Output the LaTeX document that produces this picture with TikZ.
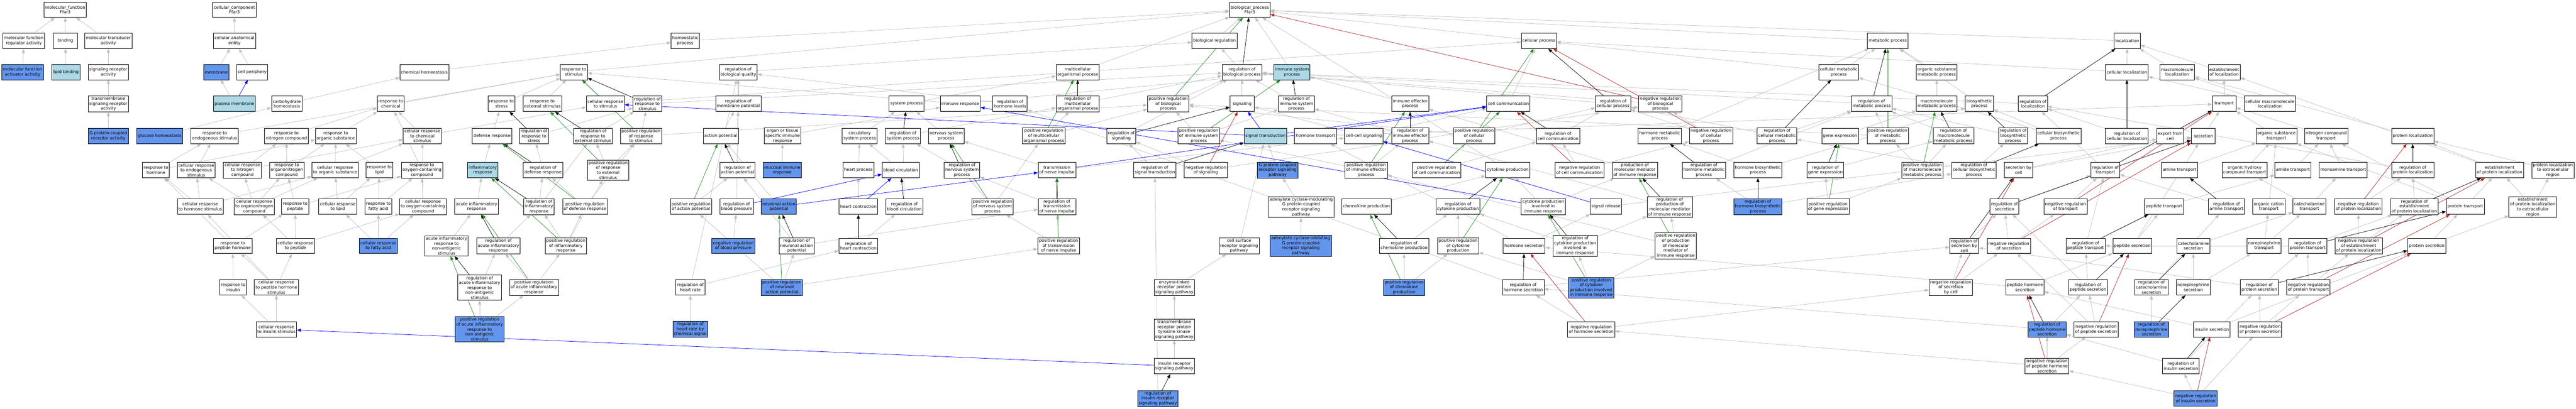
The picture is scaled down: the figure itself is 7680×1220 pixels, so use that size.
\documentclass[tikz,border=0pt]{standalone}
\usepackage{fontspec}
\newfontfamily\gofont{DejaVu Sans}
\usetikzlibrary{arrows.meta}
\pgfdeclarelayer{bg}
\pgfsetlayers{bg,main}
\definecolor{fillhit}{RGB}{100,149,237}
\definecolor{fillseed}{RGB}{173,216,230}
\definecolor{isagray}{RGB}{192,192,192}
\definecolor{posgreen}{RGB}{34,139,34}
\definecolor{negred}{RGB}{178,34,34}
\begin{document}
\begin{tikzpicture}[x=1pt,y=1pt,yscale=-1,
  gobox/.style={draw=black,line width=1.2pt,fill=white,align=center,inner xsep=3.5pt,inner ysep=3pt,minimum width=71pt,minimum height=46pt,font=\gofont\fontsize{12.5}{14.8}\selectfont},
  golight/.style={gobox,fill=fillseed},
  gohit/.style={gobox,fill=fillhit},
  isa/.style={draw=isagray,line width=1.1pt,-{Triangle[length=12pt,width=9pt]}},
  reg/.style={isa,draw=black},
  posreg/.style={isa,draw=posgreen},
  negreg/.style={isa,draw=negred},
  partof/.style={isa,draw=blue}]
\useasboundingbox (0,0) rectangle (7680,1220);

% molecular function
\node[gobox] (mf) at (194.5,29) {molecular\_function\\Ffar3};
\node[gobox] (mfreg) at (71,122) {molecular function\\regulator activity};
\node[gobox] (binding) at (195,122) {binding};
\node[gobox] (mftrans) at (323,122) {molecular transducer\\activity};
\node[gohit] (mfact) at (67.5,215) {molecular function\\activator activity};
\node[golight] (lipid) at (196,215) {lipid binding};
\node[gobox] (sigrec) at (323,215) {signaling receptor\\activity};
\node[gobox] (tmsigrec) at (323,310) {transmembrane\\signaling receptor\\activity};
\node[gohit] (gpcr) at (323,406) {G protein-coupled\\receptor activity};

% cellular component
\node[gobox] (cc) at (699,29) {cellular\_component\\Ffar3};
\node[gobox] (cae) at (699,122) {cellular anatomical\\entity};
\node[gohit] (membrane) at (645,215) {membrane};
\node[gobox] (cellper) at (752,215) {cell periphery};
\node[golight] (pm) at (699,310) {plasma membrane};

% responses to chemicals
\node[gohit] (gluchomeo) at (476,406) {glucose homeostasis};
\node[gobox] (rendo) at (640,406) {response to\\endogenous stimulus};
\node[gobox] (rhorm) at (465,508) {response to\\hormone};
\node[gobox] (creendo) at (585,508) {cellular response\\to endogenous\\stimulus};
\node[gobox] (crhorm) at (597,617) {cellular response\\to hormone stimulus};
\node[gobox] (rpephorm) at (694,734) {response to\\peptide hormone};
\node[gobox] (carbhomeo) at (855,310) {carbohydrate\\homeostasis};
\node[gobox] (chemhomeo) at (1265,215) {chemical homeostasis};
\node[gobox] (rchem) at (1165,310) {response to\\chemical};
\node[gobox] (rnitro) at (854,406) {response to\\nitrogen compound};
\node[gobox] (rorgsub) at (1001,406) {response to\\organic substance};
\node[gobox] (crchem) at (1259,406) {cellular response\\to chemical\\stimulus};
\node[gobox] (crnitro) at (723,508) {cellular response\\to nitrogen\\compound};
\node[gobox] (rorganonitro) at (855,508) {response to\\organonitrogen\\compound};
\node[gobox] (crorgsub) at (999,508) {cellular response\\to organic substance};
\node[gobox] (rlipid) at (1131,508) {response to\\lipid};
\node[gobox] (roxy) at (1258,508) {response to\\oxygen-containing\\compound};
\node[gobox] (crorganonitro) at (758,617) {cellular response\\to organonitrogen\\compound};
\node[gobox] (rpep) at (880,617) {response to\\peptide};
\node[gobox] (crlipid) at (1007,617) {cellular response\\to lipid};
\node[gobox] (rfatty) at (1128,617) {response to\\fatty acid};
\node[gobox] (croxy) at (1261,617) {cellular response\\to oxygen-containing\\compound};
\node[gobox] (crpep) at (881,734) {cellular response\\to peptide};
\node[gohit] (crfatty) at (1128,734) {cellular response\\to fatty acid};
\node[gobox] (rins) at (695,858) {response to\\insulin};
\node[gobox] (crpephorm) at (824,858) {cellular response\\to peptide hormone\\stimulus};
\node[gobox] (crins) at (824,983) {cellular response\\to insulin stimulus};

% stimulus and inflammation
\node[gobox] (rstim) at (1711,215) {response to\\stimulus};
\node[gobox] (rstress) at (1495,310) {response to\\stress};
\node[gobox] (rext) at (1617,310) {response to\\external stimulus};
\node[gobox] (crstim) at (1805,310) {cellular response\\to stimulus};
\node[gobox] (regrstim) at (1930,310) {regulation of\\response to\\stimulus};
\node[gobox] (defense) at (1467,406) {defense response};
\node[gobox] (regrstress) at (1592,406) {regulation of\\response to\\stress};
\node[gobox] (regrext) at (1768,406) {regulation of\\response to\\external stimulus};
\node[gobox] (posregrstim) at (1911,406) {positive regulation\\of response\\to stimulus};
\node[golight] (inflam) at (1439,508) {inflammatory\\response};
\node[gobox] (regdefense) at (1619,508) {regulation of\\defense response};
\node[gobox] (posregrext) at (1813,508) {positive regulation\\of response\\to external\\stimulus};
\node[gobox] (acuteinf) at (1421,617) {acute inflammatory\\response};
\node[gobox] (reginflam) at (1607,617) {regulation of\\inflammatory\\response};
\node[gobox] (posregdefense) at (1744,617) {positive regulation\\of defense response};
\node[gobox] (acuteinfnonant) at (1331,734) {acute inflammatory\\response to\\non-antigenic\\stimulus};
\node[gobox] (regacuteinf) at (1486,734) {regulation of\\acute inflammatory\\response};
\node[gobox] (posreginflam) at (1687,734) {positive regulation\\of inflammatory\\response};
\node[gobox] (regacuteinfnonant) at (1430,859) {regulation of\\acute inflammatory\\response to\\non-antigenic\\stimulus};
\node[gobox] (posregacuteinf) at (1592,858) {positive regulation\\of acute inflammatory\\response};
\node[gohit] (posregacuteinfnonant) at (1430,983) {positive regulation\\of acute inflammatory\\response to\\non-antigenic\\stimulus};

% system processes
\node[gobox] (homeo) at (2043,122) {homeostatic\\process};
\node[gobox] (regbioqual) at (2201,215) {regulation of\\biological quality};
\node[gobox] (regmemb) at (2201,310) {regulation of\\membrane potential};
\node[gobox] (actpot) at (2149,406) {action potential};
\node[gobox] (orgtissue) at (2333,406) {organ or tissue\\specific immune\\response};
\node[gobox] (circsys) at (2563,406) {circulatory\\system process};
\node[gobox] (regactpot) at (2199,508) {regulation of\\action potential};
\node[gohit] (mucosal) at (2332,508) {mucosal immune\\response};
\node[gobox] (heartproc) at (2559,508) {heart process};
\node[gobox] (posregactpot) at (2060,617) {positive regulation\\of action potential};
\node[gobox] (regbloodpres) at (2196,617) {regulation of\\blood pressure};
\node[gohit] (neuronalap) at (2322,617) {neuronal action\\potential};
\node[gobox] (heartcontr) at (2559,617) {heart contraction};
\node[gohit] (negregbp) at (2186,734) {negative regulation\\of blood pressure};
\node[gobox] (regneuronalap) at (2375,734) {regulation of\\neuronal action\\potential};
\node[gobox] (regheartcontr) at (2559,734) {regulation of\\heart contraction};
\node[gobox] (regheartrate) at (2058,858) {regulation of\\heart rate};
\node[gohit] (posregneuronalap) at (2331,858) {positive regulation\\of neuronal\\action potential};
\node[gohit] (regheartratechem) at (2058,983) {regulation of\\heart rate by\\chemical signal};
\node[gobox] (mcop) at (3213,215) {multicellular\\organismal process};
\node[gobox] (sysproc) at (2703,310) {system process};
\node[gobox] (imresp) at (2863,310) {immune response};
\node[gobox] (reghormlev) at (3011,310) {regulation of\\hormone levels};
\node[gobox] (regmcop) at (3213,310) {regulation of\\multicellular\\organismal process};
\node[gobox] (regsysproc) at (2692,406) {regulation of\\system process};
\node[gobox] (nervsys) at (2821,406) {nervous system\\process};
\node[gobox] (posregmcop) at (3112,406) {positive regulation\\of multicellular\\organismal process};
\node[gobox] (bloodcirc) at (2685,508) {blood circulation};
\node[gobox] (regnervsys) at (2868,508) {regulation of\\nervous system\\process};
\node[gobox] (transnerve) at (3151,508) {transmission\\of nerve impulse};
\node[gobox] (regbloodcirc) at (2696,617) {regulation of\\blood circulation};
\node[gobox] (posregnervsys) at (2959,617) {positive regulation\\of nervous system\\process};
\node[gobox] (regtransnerve) at (3151,617) {regulation of\\transmission\\of nerve impulse};
\node[gobox] (posregtransnerve) at (3156,734) {positive regulation\\of transmission\\of nerve impulse};

% signaling
\node[gobox] (bp) at (3726,29) {biological\_process\\Ffar3};
\node[gobox] (bioreg) at (3621,122) {biological regulation};
\node[gobox] (regbioproc) at (3703,215) {regulation of\\biological process};
\node[golight] (ims) at (3852,215) {immune system\\process};
\node[gobox] (posregbio) at (3483,310) {positive regulation\\of biological\\process};
\node[gobox] (signaling) at (3703,310) {signaling};
\node[gobox] (regims) at (3865,310) {regulation of\\immune system\\process};
\node[gobox] (regsig) at (3343,406) {regulation of\\signaling};
\node[gobox] (posregims) at (3574,406) {positive regulation\\of immune system\\process};
\node[golight] (sigtrans) at (3773,406) {signal transduction};
\node[gobox] (regsigtrans) at (3443,508) {regulation of\\signal transduction};
\node[gobox] (negregsig) at (3595,508) {negative regulation\\of signaling};
\node[gohit] (gpcrsig) at (3809,508) {G protein-coupled\\receptor signaling\\pathway};
\node[gobox] (acmod) at (3879,618) {adenylate cyclase-modulating\\G protein-coupled\\receptor signaling\\pathway};
\node[gohit] (acinh) at (3878,734) {adenylate cyclase-inhibiting\\G protein-coupled\\receptor signaling\\pathway};
\node[gobox] (cellsurf) at (3694,734) {cell surface\\receptor signaling\\pathway};
\node[gobox] (enzlink) at (3501,858) {enzyme-linked\\receptor protein\\signaling pathway};
\node[gobox] (tmrtk) at (3501,984) {transmembrane\\receptor protein\\tyrosine kinase\\signaling pathway};
\node[gobox] (insrec) at (3501,1093) {insulin receptor\\signaling pathway};
\node[gohit] (reginsrec) at (3452,1190) {regulation of\\insulin receptor\\signaling pathway};

% immune effectors and cell communication
\node[gobox] (immeff) at (4204,310) {immune effector\\process};
\node[gobox] (cellcomm) at (4497,310) {cell communication};
\node[gobox] (hormtrans) at (3922,406) {hormone transport};
\node[gobox] (cellcell) at (4066,406) {cell-cell signaling};
\node[gobox] (regimmeff) at (4204,406) {regulation of\\immune effector\\process};
\node[gobox] (posregcellproc) at (4395,406) {positive regulation\\of cellular\\process};
\node[gobox] (posregimmeff) at (4073,508) {positive regulation\\of immune effector\\process};
\node[gobox] (posregcellcomm) at (4283,508) {positive regulation\\of cell communication};
\node[gobox] (cytokine) at (4495,508) {cytokine production};
\node[gobox] (chemokine) at (4074,617) {chemokine production};
\node[gobox] (regcytokine) at (4347,617) {regulation of\\cytokine production};
\node[gobox] (regchemokine) at (4186,734) {regulation of\\chemokine production};
\node[gobox] (posregcytokine) at (4347,734) {positive regulation\\of cytokine\\production};
\node[gohit] (posregchemokine) at (4186,858) {positive regulation\\of chemokine\\production};
\node[gobox] (reghormsec) at (4541,858) {regulation of\\hormone secretion};
\node[gobox] (cellproc) at (4588,122) {cellular process};
\node[gobox] (regcellproc) at (4809,310) {regulation of\\cellular process};
\node[gobox] (negregbio) at (4950,310) {negative regulation\\of biological\\process};
\node[gobox] (regcellcomm) at (4645,406) {regulation of\\cell communication};
\node[gobox] (hormmetab) at (4948,406) {hormone metabolic\\process};
\node[gobox] (negregcellproc) at (5101,406) {negative regulation\\of cellular\\process};
\node[gobox] (negregcellcomm) at (4709,508) {negative regulation\\of cell communication};
\node[gobox] (prodmolmed) at (4874,508) {production of\\molecular mediator\\of immune response};
\node[gobox] (reghormmetab) at (5080,508) {regulation of\\hormone metabolic\\process};
\node[gobox] (cytoimm) at (4601,617) {cytokine production\\involved in\\immune response};
\node[gobox] (sigrel) at (4788,617) {signal release};
\node[gobox] (regprodmolmed) at (4978,618) {regulation of\\production of\\molecular mediator\\of immune response};
\node[gobox] (hormsec) at (4544,734) {hormone secretion};
\node[gobox] (regcytoimm) at (4696,734) {regulation of\\cytokine production\\involved in\\immune response};
\node[gobox] (posregprodmolmed) at (4996,734) {positive regulation\\of production\\of molecular\\mediator of\\immune response};
\node[gohit] (posregcytoimm) at (4744,859) {positive regulation\\of cytokine\\production involved\\in immune response};
\node[gobox] (negreghormsec) at (4744,983) {negative regulation\\of hormone secretion};

% metabolism
\node[gobox] (metab) at (5628,122) {metabolic process};
\node[gobox] (cellmetab) at (5482,215) {cellular metabolic\\process};
\node[gobox] (orgsubmetab) at (5774,215) {organic substance\\metabolic process};
\node[gobox] (regmetab) at (5580,310) {regulation of\\metabolic process};
\node[gobox] (macromol) at (5774,310) {macromolecule\\metabolic process};
\node[gobox] (regcellmetab) at (5298,406) {regulation of\\cellular metabolic\\process};
\node[gobox] (geneexp) at (5486,406) {gene expression};
\node[gobox] (posregmetab) at (5628,406) {positive regulation\\of metabolic\\process};
\node[gobox] (hormbiosyn) at (5241,508) {hormone biosynthetic\\process};
\node[gobox] (reggeneexp) at (5442,508) {regulation of\\gene expression};
\node[gobox] (posregmacromol) at (5731,508) {positive regulation\\of macromolecule\\metabolic process};
\node[gohit] (reghormbiosyn) at (5241,617) {regulation of\\hormone biosynthetic\\process};
\node[gobox] (posreggeneexp) at (5450,617) {positive regulation\\of gene expression};
\node[gobox] (negregsecbycell) at (5816,858) {negative regulation\\of secretion\\by cell};

% localization and secretion
\node[gobox] (loc) at (6342,122) {localization};
\node[gobox] (cellloc) at (6341,215) {cellular localization};
\node[gobox] (biosyn) at (5901,310) {biosynthetic\\process};
\node[gobox] (regloc) at (6061,310) {regulation of\\localization};
\node[gobox] (regmacromol) at (5824,406) {regulation of\\macromolecule\\metabolic process};
\node[gobox] (regbiosyn) at (6002,406) {regulation of\\biosynthetic\\process};
\node[gobox] (cellbiosyn) at (6137,406) {cellular biosynthetic\\process};
\node[gobox] (regcellloc) at (6341,406) {regulation of\\cellular localization};
\node[gobox] (regcellbiosyn) at (5885,508) {regulation of\\cellular biosynthetic\\process};
\node[gobox] (secbycell) at (6018,508) {secretion by\\cell};
\node[gobox] (regtransport) at (6277,508) {regulation of\\transport};
\node[gobox] (regsecretion) at (5976,617) {regulation of\\secretion};
\node[gobox] (negregtransport) at (6158,617) {negative regulation\\of transport};
\node[gobox] (peptrans) at (6452,617) {peptide transport};
\node[gobox] (regsecbycell) at (5856,734) {regulation of\\secretion by\\cell};
\node[gobox] (negregsecretion) at (5989,734) {negative regulation\\of secretion};
\node[gobox] (regpeptrans) at (6218,734) {regulation of\\peptide transport};
\node[gobox] (pepsec) at (6357,734) {peptide secretion};
\node[gobox] (pephormsec) at (6037,858) {peptide hormone\\secretion};
\node[gobox] (regpepsec) at (6225,858) {regulation of\\peptide secretion};
\node[gobox] (regcatsec) at (6414,858) {regulation of\\catecholamine\\secretion};
\node[gohit] (regpephormsec) at (6103,983) {regulation of\\peptide hormone\\secretion};
\node[gobox] (negregpepsec) at (6249,983) {negative regulation\\of peptide secretion};
\node[gohit] (regnorepisec) at (6414,983) {regulation of\\norepinephrine\\secretion};
\node[gobox] (negregpephormsec) at (6103,1093) {negative regulation\\of peptide hormone\\secretion};
\node[gobox] (macroloc) at (6491,215) {macromolecule\\localization};
\node[gobox] (estloc) at (6631,215) {establishment\\of localization};
\node[gobox] (transport) at (6631,310) {transport};
\node[gobox] (cellmacroloc) at (6767,310) {cellular macromolecule\\localization};
\node[gobox] (exportcell) at (6470,406) {export from\\cell};
\node[gobox] (secretion) at (6569,406) {secretion};
\node[gobox] (orgsubtrans) at (6787,406) {organic substance\\transport};
\node[gobox] (nitrotrans) at (6935,406) {nitrogen compound\\transport};
\node[gobox] (aminetrans) at (6498,508) {amine transport};
\node[gobox] (ohtrans) at (6692,508) {organic hydroxy\\compound transport};
\node[gobox] (amidetrans) at (6836,508) {amide transport};
\node[gobox] (monoamine) at (6986,508) {monoamine transport};
\node[gobox] (regamine) at (6638,617) {regulation of\\amine transport};
\node[gobox] (orgcation) at (6764,617) {organic cation\\transport};
\node[gobox] (cattrans) at (6885,617) {catecholamine\\transport};
\node[gobox] (negregprotloc) at (7031,617) {negative regulation\\of protein localization};
\node[gobox] (catsec) at (6539,734) {catecholamine\\secretion};
\node[gobox] (norepitrans) at (6750,734) {norepinephrine\\transport};
\node[gobox] (regprottrans) at (6880,734) {regulation of\\protein transport};
\node[gobox] (negregestprotloc) at (7032,734) {negative regulation\\of establishment\\of protein localization};
\node[gobox] (norepisec) at (6539,858) {norepinephrine\\secretion};
\node[gobox] (regprotsec) at (6736,858) {regulation of\\protein secretion};
\node[gobox] (negregprottrans) at (6882,858) {negative regulation\\of protein transport};
\node[gobox] (inssec) at (6594,983) {insulin secretion};
\node[gobox] (negregprotsec) at (6738,983) {negative regulation\\of protein secretion};
\node[gobox] (regins) at (6502,1093) {regulation of\\insulin secretion};
\node[gohit] (negregins) at (6546,1190) {negative regulation\\of insulin secretion};
\node[gobox] (protloc) at (7193,406) {protein localization};
\node[gobox] (regprotloc) at (7193,508) {regulation of\\protein localization};
\node[gobox] (estprotloc) at (7452,508) {establishment\\of protein localization};
\node[gobox] (protlocextra) at (7611,508) {protein localization\\to extracellular\\region};
\node[gobox] (regestprotloc) at (7198,617) {regulation of\\establishment\\of protein localization};
\node[gobox] (prottrans) at (7350,617) {protein transport};
\node[gobox] (estprotlocextra) at (7551,618) {establishment\\of protein localization\\to extracellular\\region};
\node[gobox] (protsec) at (7235,734) {protein secretion};

\begin{pgfonlayer}{bg}
\fill[white] (0,0) rectangle (7680,1220);
% is_a: molecular function and cellular component
\draw[isa] (mfreg) -- (mf);
\draw[isa] (binding) -- (mf);
\draw[isa] (mftrans) -- (mf);
\draw[isa] (mfact) -- (mfreg);
\draw[isa] (lipid) -- (binding);
\draw[isa] (sigrec) -- (mftrans);
\draw[isa] (tmsigrec) -- (sigrec);
\draw[isa] (gpcr) -- (tmsigrec);
\draw[isa] (cae) -- (cc);
\draw[isa] (membrane) -- (cae);
\draw[isa] (cellper) -- (cae);
\draw[isa] (pm) -- (membrane);
% is_a: top of biological process
\draw[isa] (bioreg) -- (bp);
\draw[isa] (rstim) -- (bp);
\draw[isa] (homeo) -- (bp);
\draw[isa] (mcop) -- (bp);
\draw[isa] (ims) -- (bp);
\draw[isa] (cellproc) -- (bp);
\draw[isa] (metab) -- (bp);
\draw[isa] (loc) -- (bp);
\draw[isa] (cytokine) -- (bp);
\draw[isa] (regbioqual) -- (bioreg);
\draw[isa] (regbioproc) -- (bioreg);
\draw[isa] (regrstim) -- (regbioproc);
\draw[isa] (regmcop) -- (regbioproc);
\draw[isa] (regims) -- (regbioproc);
\draw[isa] (posregbio) -- (regbioproc);
\draw[isa] (negregbio) -- (regbioproc);
\draw[isa] (regsig) -- (regbioproc);
\draw[isa] (regcellproc) -- (regbioproc);
\draw[isa] (regloc) -- (regbioproc);
\draw[isa] (regmetab) -- (regbioproc);
\draw[isa] (signaling) -- (regbioproc);
% is_a: responses to chemicals
\draw[isa] (chemhomeo) -- (homeo);
\draw[isa] (carbhomeo) -- (chemhomeo);
\draw[isa] (gluchomeo) -- (carbhomeo);
\draw[isa] (rchem) -- (rstim);
\draw[isa] (rendo) -- (rstim);
\draw[isa] (rstress) -- (rstim);
\draw[isa] (rext) -- (rstim);
\draw[isa] (crstim) -- (rstim);
\draw[isa] (imresp) -- (rstim);
\draw[isa] (imresp) -- (ims);
\draw[isa] (crstim) -- (cellproc);
\draw[isa] (rhorm) -- (rendo);
\draw[isa] (rhorm) -- (rorgsub);
\draw[isa] (creendo) -- (rendo);
\draw[isa] (crorganonitro) -- (creendo);
\draw[isa] (crhorm) -- (rhorm);
\draw[isa] (crhorm) -- (creendo);
\draw[isa] (crhorm) -- (crorgsub);
\draw[isa] (rpephorm) -- (rhorm);
\draw[isa] (rpephorm) -- (rpep);
\draw[isa] (rins) -- (rpephorm);
\draw[isa] (crpephorm) -- (rpephorm);
\draw[isa] (crpephorm) -- (crhorm);
\draw[isa] (crpephorm) -- (crpep);
\draw[isa] (crins) -- (rins);
\draw[isa] (crins) -- (crpephorm);
\draw[isa] (rnitro) -- (rchem);
\draw[isa] (rorgsub) -- (rchem);
\draw[isa] (crchem) -- (rchem);
\draw[isa] (crchem) -- (crstim);
\draw[isa] (roxy) -- (rchem);
\draw[isa] (crnitro) -- (rnitro);
\draw[isa] (crnitro) -- (crchem);
\draw[isa] (rorganonitro) -- (rnitro);
\draw[isa] (rorganonitro) -- (rorgsub);
\draw[isa] (crorgsub) -- (rorgsub);
\draw[isa] (crorgsub) -- (crchem);
\draw[isa] (rlipid) -- (rorgsub);
\draw[isa] (crorganonitro) -- (crnitro);
\draw[isa] (crorganonitro) -- (rorganonitro);
\draw[isa] (crorganonitro) -- (crorgsub);
\draw[isa] (rpep) -- (rorganonitro);
\draw[isa] (rpep) -- (roxy);
\draw[isa] (crlipid) -- (crorgsub);
\draw[isa] (crlipid) -- (rlipid);
\draw[isa] (rfatty) -- (rlipid);
\draw[isa] (rfatty) -- (roxy);
\draw[isa] (croxy) -- (roxy);
\draw[isa] (croxy) -- (crchem);
\draw[isa] (crpep) -- (rpep);
\draw[isa] (crpep) -- (crorganonitro);
\draw[isa] (crpep) -- (croxy);
\draw[isa] (crfatty) -- (crlipid);
\draw[isa] (crfatty) -- (rfatty);
\draw[isa] (crfatty) -- (croxy);
% is_a: inflammation
\draw[isa] (defense) -- (rstress);
\draw[isa] (inflam) -- (defense);
\draw[isa] (acuteinf) -- (inflam);
\draw[isa] (acuteinfnonant) -- (acuteinf);
\draw[isa] (regrstress) -- (regrstim);
\draw[isa] (regrext) -- (regrstim);
\draw[isa] (posregrstim) -- (regrstim);
\draw[isa] (posregrstim) -- (posregbio);
\draw[isa] (regdefense) -- (regrstress);
\draw[isa] (reginflam) -- (regdefense);
\draw[isa] (reginflam) -- (regrext);
\draw[isa] (posregdefense) -- (regdefense);
\draw[isa] (posregdefense) -- (posregrstim);
\draw[isa] (posregrext) -- (regrext);
\draw[isa] (posregrext) -- (posregrstim);
\draw[isa] (regacuteinf) -- (reginflam);
\draw[isa] (posreginflam) -- (reginflam);
\draw[isa] (posreginflam) -- (posregdefense);
\draw[isa] (posreginflam) -- (posregrext);
\draw[isa] (regacuteinfnonant) -- (regacuteinf);
\draw[isa] (posregacuteinf) -- (regacuteinf);
\draw[isa] (posregacuteinf) -- (posreginflam);
\draw[isa] (posregacuteinfnonant) -- (regacuteinfnonant);
\draw[isa] (posregacuteinfnonant) -- (posregacuteinf);
% is_a: system processes
\draw[isa] (regmemb) -- (regbioqual);
\draw[isa] (actpot) -- (regmemb);
\draw[isa] (regactpot) -- (regmemb);
\draw[isa] (posregactpot) -- (regactpot);
\draw[isa] (neuronalap) -- (actpot);
\draw[isa] (regneuronalap) -- (regactpot);
\draw[isa] (regneuronalap) -- (regtransnerve);
\draw[isa] (posregneuronalap) -- (regneuronalap);
\draw[isa] (posregneuronalap) -- (posregactpot);
\draw[isa] (posregneuronalap) -- (posregtransnerve);
\draw[isa] (regbloodpres) -- (regbioqual);
\draw[isa] (negregbp) -- (regbloodpres);
\draw[isa] (regheartrate) -- (regbioqual);
\draw[isa] (regheartrate) -- (regheartcontr);
\draw[isa] (regheartratechem) -- (regheartrate);
\draw[isa] (orgtissue) -- (imresp);
\draw[isa] (mucosal) -- (orgtissue);
\draw[isa] (circsys) -- (sysproc);
\draw[isa] (heartproc) -- (circsys);
\draw[isa] (heartcontr) -- (heartproc);
\draw[isa] (regheartcontr) -- (regbloodcirc);
\draw[isa] (reghormlev) -- (regbioqual);
\draw[isa] (sysproc) -- (mcop);
\draw[isa] (regsysproc) -- (regmcop);
\draw[isa] (nervsys) -- (sysproc);
\draw[isa] (posregmcop) -- (regmcop);
\draw[isa] (posregmcop) -- (posregbio);
\draw[isa] (bloodcirc) -- (circsys);
\draw[isa] (regnervsys) -- (regsysproc);
\draw[isa] (transnerve) -- (nervsys);
\draw[isa] (transnerve) -- (cellcell);
\draw[isa] (regbloodcirc) -- (regsysproc);
\draw[isa] (posregnervsys) -- (regnervsys);
\draw[isa] (posregnervsys) -- (posregmcop);
\draw[isa] (regtransnerve) -- (regnervsys);
\draw[isa] (posregtransnerve) -- (regtransnerve);
\draw[isa] (posregtransnerve) -- (posregnervsys);
% is_a: signaling
\draw[isa] (posregims) -- (regims);
\draw[isa] (posregims) -- (posregbio);
\draw[isa] (regsigtrans) -- (regsig);
\draw[isa] (negregsig) -- (regsig);
\draw[isa] (negregsig) -- (negregbio);
\draw[isa] (reginsrec) -- (regsigtrans);
\draw[isa] (insrec) -- (tmrtk);
\draw[isa] (tmrtk) -- (enzlink);
\draw[isa] (enzlink) -- (cellsurf);
\draw[isa] (cellsurf) -- (sigtrans);
\draw[isa] (gpcrsig) -- (sigtrans);
\draw[isa] (acmod) -- (gpcrsig);
\draw[isa] (acinh) -- (acmod);
\draw[isa] (cellcell) -- (signaling);
\draw[isa] (cellcell) -- (cellcomm);
% is_a: immune effectors and cell communication
\draw[isa] (immeff) -- (ims);
\draw[isa] (regimmeff) -- (regims);
\draw[isa] (posregimmeff) -- (regimmeff);
\draw[isa] (posregimmeff) -- (posregims);
\draw[isa] (hormtrans) -- (transport);
\draw[isa] (posregcellproc) -- (regcellproc);
\draw[isa] (posregcellproc) -- (posregbio);
\draw[isa] (posregcellcomm) -- (regcellcomm);
\draw[isa] (posregcellcomm) -- (posregcellproc);
\draw[isa] (chemokine) -- (cytokine);
\draw[isa] (regchemokine) -- (regcytokine);
\draw[isa] (posregcytokine) -- (regcytokine);
\draw[isa] (posregchemokine) -- (regchemokine);
\draw[isa] (posregchemokine) -- (posregcytokine);
\draw[isa] (cellcomm) -- (cellproc);
\draw[isa] (regcellcomm) -- (regcellproc);
\draw[isa] (hormmetab) -- (metab);
\draw[isa] (negregcellproc) -- (regcellproc);
\draw[isa] (negregcellproc) -- (negregbio);
\draw[isa] (negregcellcomm) -- (regcellcomm);
\draw[isa] (negregcellcomm) -- (negregcellproc);
\draw[isa] (prodmolmed) -- (immeff);
\draw[isa] (reghormmetab) -- (regmetab);
\draw[isa] (cytoimm) -- (cytokine);
\draw[isa] (cytoimm) -- (prodmolmed);
\draw[isa] (sigrel) -- (secretion);
\draw[isa] (regprodmolmed) -- (regimmeff);
\draw[isa] (hormsec) -- (sigrel);
\draw[isa] (hormsec) -- (hormtrans);
\draw[isa] (regcytoimm) -- (regcytokine);
\draw[isa] (regcytoimm) -- (regprodmolmed);
\draw[isa] (posregprodmolmed) -- (regprodmolmed);
\draw[isa] (posregprodmolmed) -- (posregimmeff);
\draw[isa] (posregcytoimm) -- (regcytoimm);
\draw[isa] (posregcytoimm) -- (posregprodmolmed);
\draw[isa] (posregcytoimm) -- (posregcytokine);
\draw[isa] (negreghormsec) -- (reghormsec);
\draw[isa] (negreghormsec) -- (negregsecbycell);
\draw[isa] (reghormsec) -- (regsecbycell);
\draw[isa] (reghormsec) -- (reghormlev);
% is_a: metabolism
\draw[isa] (cellmetab) -- (metab);
\draw[isa] (cellmetab) -- (cellproc);
\draw[isa] (orgsubmetab) -- (metab);
\draw[isa] (macromol) -- (orgsubmetab);
\draw[isa] (regcellmetab) -- (regmetab);
\draw[isa] (regcellmetab) -- (regcellproc);
\draw[isa] (geneexp) -- (macromol);
\draw[isa] (posregmetab) -- (regmetab);
\draw[isa] (posregmetab) -- (posregbio);
\draw[isa] (hormbiosyn) -- (hormmetab);
\draw[isa] (hormbiosyn) -- (biosyn);
\draw[isa] (reggeneexp) -- (regmacromol);
\draw[isa] (posregmacromol) -- (regmacromol);
\draw[isa] (posregmacromol) -- (posregmetab);
\draw[isa] (reghormbiosyn) -- (reghormmetab);
\draw[isa] (reghormbiosyn) -- (regcellbiosyn);
\draw[isa] (posreggeneexp) -- (reggeneexp);
\draw[isa] (posreggeneexp) -- (posregmacromol);
% is_a: localization and secretion
\draw[isa] (cellloc) -- (loc);
\draw[isa] (cellloc) -- (cellproc);
\draw[isa] (biosyn) -- (metab);
\draw[isa] (regmacromol) -- (regmetab);
\draw[isa] (regbiosyn) -- (regmetab);
\draw[isa] (cellbiosyn) -- (biosyn);
\draw[isa] (cellbiosyn) -- (cellmetab);
\draw[isa] (regcellloc) -- (regloc);
\draw[isa] (regcellbiosyn) -- (regbiosyn);
\draw[isa] (regcellbiosyn) -- (regcellmetab);
\draw[isa] (secbycell) -- (secretion);
\draw[isa] (secbycell) -- (exportcell);
\draw[isa] (regtransport) -- (regloc);
\draw[isa] (regsecretion) -- (regtransport);
\draw[isa] (negregtransport) -- (regtransport);
\draw[isa] (peptrans) -- (amidetrans);
\draw[isa] (regsecbycell) -- (regsecretion);
\draw[isa] (negregsecretion) -- (regsecretion);
\draw[isa] (negregsecretion) -- (negregtransport);
\draw[isa] (regpeptrans) -- (regtransport);
\draw[isa] (pepsec) -- (peptrans);
\draw[isa] (pepsec) -- (secretion);
\draw[isa] (pephormsec) -- (pepsec);
\draw[isa] (pephormsec) -- (hormsec);
\draw[isa] (regpepsec) -- (regpeptrans);
\draw[isa] (regpepsec) -- (regsecretion);
\draw[isa] (regcatsec) -- (regamine);
\draw[isa] (regpephormsec) -- (regpepsec);
\draw[isa] (regpephormsec) -- (reghormsec);
\draw[isa] (negregpepsec) -- (regpepsec);
\draw[isa] (negregpepsec) -- (negregsecretion);
\draw[isa] (regnorepisec) -- (regcatsec);
\draw[isa] (negregpephormsec) -- (regpephormsec);
\draw[isa] (negregpephormsec) -- (negregpepsec);
\draw[isa] (negregpephormsec) -- (negreghormsec);
\draw[isa] (negregsecbycell) -- (regsecbycell);
\draw[isa] (negregsecbycell) -- (negregsecretion);
\draw[isa] (macroloc) -- (loc);
\draw[isa] (estloc) -- (loc);
\draw[isa] (transport) -- (estloc);
\draw[isa] (cellmacroloc) -- (macroloc);
\draw[isa] (cellmacroloc) -- (cellloc);
\draw[isa] (exportcell) -- (transport);
\draw[isa] (secretion) -- (transport);
\draw[isa] (orgsubtrans) -- (transport);
\draw[isa] (nitrotrans) -- (transport);
\draw[isa] (aminetrans) -- (orgsubtrans);
\draw[isa] (ohtrans) -- (orgsubtrans);
\draw[isa] (amidetrans) -- (nitrotrans);
\draw[isa] (monoamine) -- (nitrotrans);
\draw[isa] (regamine) -- (regtransport);
\draw[isa] (orgcation) -- (orgsubtrans);
\draw[isa] (cattrans) -- (monoamine);
\draw[isa] (cattrans) -- (ohtrans);
\draw[isa] (catsec) -- (cattrans);
\draw[isa] (norepitrans) -- (cattrans);
\draw[isa] (norepitrans) -- (orgcation);
\draw[isa] (regprottrans) -- (regpeptrans);
\draw[isa] (regprottrans) -- (regestprotloc);
\draw[isa] (norepisec) -- (catsec);
\draw[isa] (norepisec) -- (norepitrans);
\draw[isa] (regprotsec) -- (regprottrans);
\draw[isa] (regprotsec) -- (regsecbycell);
\draw[isa] (negregprottrans) -- (regprottrans);
\draw[isa] (negregprottrans) -- (negregestprotloc);
\draw[isa] (inssec) -- (pephormsec);
\draw[isa] (inssec) -- (protsec);
\draw[isa] (negregprotsec) -- (regprotsec);
\draw[isa] (negregprotsec) -- (negregprottrans);
\draw[isa] (regins) -- (regpephormsec);
\draw[isa] (regins) -- (regprotsec);
\draw[isa] (negregins) -- (regins);
\draw[isa] (negregins) -- (negregprotsec);
\draw[isa] (negregins) -- (negregpephormsec);
\draw[isa] (protloc) -- (macroloc);
\draw[isa] (regprotloc) -- (regloc);
\draw[isa] (estprotloc) -- (protloc);
\draw[isa] (estprotloc) -- (estloc);
\draw[isa] (protlocextra) -- (protloc);
\draw[isa] (regestprotloc) -- (regprotloc);
\draw[isa] (prottrans) -- (estprotloc);
\draw[isa] (prottrans) -- (nitrotrans);
\draw[isa] (prottrans) -- (orgsubtrans);
\draw[isa] (estprotlocextra) -- (estprotloc);
\draw[isa] (estprotlocextra) -- (protlocextra);
\draw[isa] (protsec) -- (prottrans);
\draw[isa] (protsec) -- (estprotlocextra);
\draw[isa] (negregprotloc) -- (regprotloc);
\draw[isa] (negregestprotloc) -- (regestprotloc);
\draw[isa] (negregestprotloc) -- (negregprotloc);
% regulates
\draw[reg] (regbioproc) -- (bp);
\draw[reg] (regrstim) -- (rstim);
\draw[reg] (regrstress) -- (rstress);
\draw[reg] (regrext) -- (rext);
\draw[reg] (regdefense) -- (defense);
\draw[reg] (reginflam) -- (inflam);
\draw[reg] (regacuteinf) -- (acuteinf);
\draw[reg] (regacuteinfnonant) -- (acuteinfnonant);
\draw[reg] (regactpot) -- (actpot);
\draw[reg] (regneuronalap) -- (neuronalap);
\draw[reg] (regheartcontr) -- (heartcontr);
\draw[reg] (regmcop) -- (mcop);
\draw[reg] (regsysproc) -- (sysproc);
\draw[reg] (regnervsys) -- (nervsys);
\draw[reg] (regbloodcirc) -- (bloodcirc);
\draw[reg] (regtransnerve) -- (transnerve);
\draw[reg] (regims) -- (ims);
\draw[reg] (regsig) -- (signaling);
\draw[reg] (regsigtrans) -- (sigtrans);
\draw[reg] (reginsrec) -- (insrec);
\draw[reg] (regimmeff) -- (immeff);
\draw[reg] (regchemokine) -- (chemokine);
\draw[reg] (regcytokine) -- (cytokine);
\draw[reg] (regcellproc) -- (cellproc);
\draw[reg] (regcellcomm) -- (cellcomm);
\draw[reg] (reghormmetab) -- (hormmetab);
\draw[reg] (regprodmolmed) -- (prodmolmed);
\draw[reg] (regcytoimm) -- (cytoimm);
\draw[reg] (reghormsec) -- (hormsec);
\draw[reg] (regmetab) -- (metab);
\draw[reg] (regcellmetab) -- (cellmetab);
\draw[reg] (reggeneexp) -- (geneexp);
\draw[reg] (reghormbiosyn) -- (hormbiosyn);
\draw[reg] (regloc) -- (loc);
\draw[reg] (regcellloc) -- (cellloc);
\draw[reg] (regmacromol) -- (macromol);
\draw[reg] (regbiosyn) -- (biosyn);
\draw[reg] (regcellbiosyn) -- (cellbiosyn);
\draw[reg] (regtransport) -- (transport);
\draw[reg] (regsecretion) -- (secretion);
\draw[reg] (regsecbycell) -- (secbycell);
\draw[reg] (regpeptrans) -- (peptrans);
\draw[reg] (regpepsec) -- (pepsec);
\draw[reg] (regpephormsec) -- (pephormsec);
\draw[reg] (regcatsec) -- (catsec);
\draw[reg] (regnorepisec) -- (norepisec);
\draw[reg] (regamine) -- (aminetrans);
\draw[reg] (regins) -- (inssec);
\draw[reg] (regprottrans) -- (prottrans);
\draw[reg] (regprotsec) -- (protsec);
\draw[reg] (regprotloc) -- (protloc);
\draw[reg] (regestprotloc) -- (estprotloc);
% positively regulates
\draw[posreg] (posregbio) -- (bp);
\draw[posreg] (posregrstim) -- (rstim);
\draw[posreg] (posregrext) -- (rext);
\draw[posreg] (posregdefense) -- (defense);
\draw[posreg] (posreginflam) -- (inflam);
\draw[posreg] (posregacuteinf) -- (acuteinf);
\draw[posreg] (posregacuteinfnonant) -- (acuteinfnonant);
\draw[posreg] (posregactpot) -- (actpot);
\draw[posreg] (posregneuronalap) -- (neuronalap);
\draw[posreg] (posregmcop) -- (mcop);
\draw[posreg] (posregnervsys) -- (nervsys);
\draw[posreg] (posregtransnerve) -- (transnerve);
\draw[posreg] (posregims) -- (ims);
\draw[posreg] (posregimmeff) -- (immeff);
\draw[posreg] (posregcellproc) -- (cellproc);
\draw[posreg] (posregcellcomm) -- (cellcomm);
\draw[posreg] (posregcytokine) -- (cytokine);
\draw[posreg] (posregchemokine) -- (chemokine);
\draw[posreg] (posregcytoimm) -- (cytoimm);
\draw[posreg] (posregprodmolmed) -- (prodmolmed);
\draw[posreg] (posregmetab) -- (metab);
\draw[posreg] (posreggeneexp) -- (geneexp);
\draw[posreg] (posregmacromol) -- (macromol);
% negatively regulates
\draw[negreg] (negregbio) -- (bp);
\draw[negreg] (negregcellproc) -- (cellproc);
\draw[negreg] (negregcellcomm) -- (cellcomm);
\draw[negreg] (negregsig) -- (signaling);
\draw[negreg] (negreghormsec) -- (hormsec);
\draw[negreg] (negregsecretion) -- (secretion);
\draw[negreg] (negregsecbycell) -- (secbycell);
\draw[negreg] (negregtransport) -- (transport);
\draw[negreg] (negregpepsec) -- (pepsec);
\draw[negreg] (negregpephormsec) -- (pephormsec);
\draw[negreg] (negregins) -- (inssec);
\draw[negreg] (negregprotsec) -- (protsec);
\draw[negreg] (negregprottrans) -- (prottrans);
\draw[negreg] (negregprotloc) -- (protloc);
\draw[negreg] (negregestprotloc) -- (estprotloc);
% part of
\draw[partof] (pm) -- (cellper);
\draw[partof] (insrec) -- (crins);
\draw[partof] (sigtrans) -- (crstim);
\draw[partof] (sigtrans) -- (signaling);
\draw[partof] (sigtrans) -- (cellcomm);
\draw[partof] (transnerve) -- (cellcomm);
\draw[partof] (neuronalap) -- (transnerve);
\draw[partof] (regbloodpres) -- (bloodcirc);
\draw[partof] (heartcontr) -- (bloodcirc);
\draw[partof] (cytoimm) -- (imresp);
\draw[partof] (sigrel) -- (cellcell);
\end{pgfonlayer}
\end{tikzpicture}
\end{document}
